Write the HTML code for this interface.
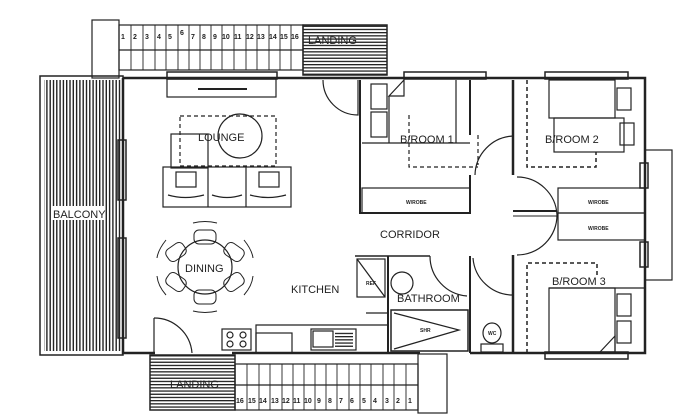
<!DOCTYPE html>
<html><head><meta charset="utf-8"><style>
html,body{margin:0;padding:0;background:#fff;width:692px;height:417px;overflow:hidden}
svg{display:block}
text{font-family:"Liberation Sans",sans-serif;fill:#222}
</style></head><body>
<svg width="692" height="417" viewBox="0 0 692 417" xmlns="http://www.w3.org/2000/svg">
<defs>
<pattern id="hh" width="4" height="3.2" patternUnits="userSpaceOnUse"><rect width="4" height="1.3" fill="#222"/></pattern>
<pattern id="vv" width="3.3" height="4" patternUnits="userSpaceOnUse"><rect width="1.4" height="4" fill="#222"/></pattern>
</defs>
<g fill="none" stroke="#222" stroke-width="1.2">
<rect x="92" y="20" width="27" height="58"/>
<rect x="119" y="25" width="184" height="45"/>
<line x1="119" y1="50" x2="303" y2="50"/>
<g stroke-width="0.9">
<line x1="131" y1="25" x2="131" y2="70"/><line x1="143" y1="25" x2="143" y2="70"/><line x1="155" y1="25" x2="155" y2="70"/><line x1="166" y1="25" x2="166" y2="70"/><line x1="178" y1="25" x2="178" y2="70"/><line x1="189" y1="25" x2="189" y2="70"/><line x1="200" y1="25" x2="200" y2="70"/><line x1="211" y1="25" x2="211" y2="70"/><line x1="222" y1="25" x2="222" y2="70"/><line x1="234" y1="25" x2="234" y2="70"/><line x1="246" y1="25" x2="246" y2="70"/><line x1="257" y1="25" x2="257" y2="70"/><line x1="269" y1="25" x2="269" y2="70"/><line x1="280" y1="25" x2="280" y2="70"/><line x1="291" y1="25" x2="291" y2="70"/>
</g>
<rect x="303" y="25" width="84" height="50" fill="url(#hh)" stroke-width="1.5"/>
<rect x="40" y="76" width="83" height="279" stroke-width="1.5"/>
<rect x="44" y="80" width="77" height="271" fill="url(#vv)" stroke="none"/>
<path d="M123 78 H645 V353 H470" stroke-width="2.5"/>
<path d="M123 78 V353 H155" stroke-width="2.5"/>
<line x1="232" y1="353" x2="420" y2="353" stroke-width="2.5"/>
<rect x="645" y="150" width="27" height="130"/>
<rect x="640" y="163" width="8" height="25" stroke-width="1.5"/>
<rect x="640" y="242" width="8" height="25" stroke-width="1.5"/>
<rect x="167" y="72" width="110" height="7" stroke-width="1.5"/>
<rect x="404" y="72" width="82" height="7" stroke-width="1.5"/>
<rect x="545" y="72" width="83" height="7" stroke-width="1.5"/>
<rect x="545" y="352" width="83" height="7" stroke-width="1.5"/>
<rect x="118" y="140" width="8" height="60" stroke-width="1.5"/>
<rect x="118" y="238" width="8" height="100" stroke-width="1.5"/>
<rect x="167" y="79" width="109" height="18"/>
<line x1="198" y1="89" x2="247" y2="89" stroke-width="2"/>
<rect x="180" y="116" width="96" height="50" stroke-dasharray="4,3"/>
<circle cx="240" cy="136" r="22"/>
<rect x="171" y="134" width="37" height="34"/>
<rect x="163" y="167" width="128" height="40"/>
<line x1="208" y1="167" x2="208" y2="207"/><line x1="246" y1="167" x2="246" y2="207"/>
<rect x="176" y="172" width="20" height="15"/><rect x="259" y="172" width="20" height="15"/>
<path d="M168 195 Q185 200 204 195 M212 195 Q227 200 242 195 M250 195 Q268 200 286 195"/>
<circle cx="205" cy="267" r="27"/>
<g stroke-width="1">
<rect x="194" y="230" width="22" height="14" rx="5"/>
<rect x="194" y="290" width="22" height="14" rx="5"/>
<rect x="166" y="245" width="20" height="14" rx="5" transform="rotate(-35 176 252)"/>
<rect x="224" y="245" width="20" height="14" rx="5" transform="rotate(35 234 252)"/>
<rect x="166" y="275" width="20" height="14" rx="5" transform="rotate(35 176 282)"/>
<rect x="224" y="275" width="20" height="14" rx="5" transform="rotate(-35 234 282)"/>
<path d="M193 223 Q205 220 217 223"/><path d="M193 311 Q205 314 217 311"/>
<path d="M166 240 Q158 250 157 258"/><path d="M244 240 Q252 250 253 258"/>
<path d="M157 276 Q158 286 166 295"/><path d="M253 276 Q252 286 244 295"/>
</g>
<path d="M154 318 V353"/><path d="M154 318 A38 38 0 0 1 192 353"/>
<rect x="150" y="355" width="85" height="55" fill="url(#hh)" stroke-width="1.5"/>
<rect x="235" y="364" width="183" height="46"/>
<line x1="235" y1="385" x2="418" y2="385"/>
<g stroke-width="0.9">
<line x1="247" y1="364" x2="247" y2="410"/><line x1="259" y1="364" x2="259" y2="410"/><line x1="270" y1="364" x2="270" y2="410"/><line x1="282" y1="364" x2="282" y2="410"/><line x1="293" y1="364" x2="293" y2="410"/><line x1="304" y1="364" x2="304" y2="410"/><line x1="315" y1="364" x2="315" y2="410"/><line x1="326" y1="364" x2="326" y2="410"/><line x1="337" y1="364" x2="337" y2="410"/><line x1="349" y1="364" x2="349" y2="410"/><line x1="360" y1="364" x2="360" y2="410"/><line x1="371" y1="364" x2="371" y2="410"/><line x1="383" y1="364" x2="383" y2="410"/><line x1="394" y1="364" x2="394" y2="410"/><line x1="406" y1="364" x2="406" y2="410"/>
</g>
<rect x="418" y="354" width="29" height="59"/>
<path d="M358 80 V115 A35 35 0 0 1 323 80"/>
<path d="M256 353 V325 H388"/>
<rect x="222" y="329" width="29" height="21"/>
<circle cx="230" cy="335" r="3"/><circle cx="243" cy="335" r="3"/><circle cx="230" cy="344" r="3"/><circle cx="243" cy="344" r="3"/>
<rect x="256" y="333" width="36" height="20"/>
<rect x="311" y="329" width="45" height="21"/>
<rect x="313" y="331" width="20" height="16"/>
<rect x="335" y="331" width="18" height="16" fill="url(#hh)" stroke="none"/>
<rect x="357" y="259" width="28" height="38"/>
<line x1="357" y1="259" x2="385" y2="297"/>
<path d="M355 256 H430" stroke-width="1.5"/>
<path d="M388 256 V353" stroke-width="2"/>
<line x1="366" y1="313" x2="388" y2="313"/>
<rect x="391" y="310" width="77" height="41" stroke-width="1.5"/>
<path d="M394 313 L459 330 L394 349"/>
<circle cx="402" cy="283" r="11"/>
<path d="M430 256 A40 40 0 0 0 467 296"/>
<path d="M470 256 V353" stroke-width="2"/>
<path d="M473 258 A40 40 0 0 0 513 295"/>
<ellipse cx="492" cy="333" rx="9" ry="10"/>
<rect x="481" y="344" width="22" height="8"/>
<path d="M360 80 V213 H470 V175" stroke-width="2"/>
<path d="M470 80 V135" stroke-width="2"/>
<path d="M513 80 V175" stroke-width="2.5"/>
<path d="M513 255 V353" stroke-width="2.5"/>
<line x1="513" y1="211" x2="557" y2="211" stroke-width="2"/>
<line x1="513" y1="216" x2="557" y2="216" stroke-width="1"/>
<rect x="362" y="188" width="108" height="25"/>
<line x1="362" y1="143" x2="470" y2="143"/>
<rect x="371" y="84" width="16" height="25"/><rect x="371" y="112" width="16" height="25"/>
<path d="M389 96 L404 80 V96 Z M389 96 V143"/>
<line x1="456" y1="80" x2="456" y2="143"/>
<path d="M409 115 V167 H478" stroke-dasharray="4,3"/>
<path d="M478 135 V165" stroke-dasharray="4,3"/>
<path d="M475 175 A40 40 0 0 1 513 136"/>
<path d="M527 80 V167 H596 V152" stroke-dasharray="4,3" stroke-width="1.5"/>
<rect x="549" y="80" width="66" height="38"/>
<rect x="554" y="118" width="70" height="34"/>
<rect x="617" y="88" width="14" height="22"/><rect x="620" y="123" width="14" height="22"/>
<rect x="558" y="188" width="87" height="25"/>
<rect x="558" y="213" width="87" height="27"/>
<path d="M517 177 A40 40 0 0 1 557 215"/>
<path d="M557 215 A40 40 0 0 1 517 255"/>
<path d="M527 353 V263 H597 V275" stroke-dasharray="4,3" stroke-width="1.5"/>
<path d="M549 288 H645"/>
<rect x="549" y="288" width="66" height="64"/>
<rect x="617" y="294" width="14" height="22"/><rect x="617" y="321" width="14" height="22"/>
<path d="M600 352 L615 336 V352"/>
</g>
<rect x="52" y="206" width="52" height="14" fill="#fff"/>
<g font-size="7" font-weight="bold">
<text x="121" y="39">1</text><text x="133" y="39">2</text><text x="145" y="39">3</text><text x="157" y="39">4</text><text x="168" y="39">5</text><text x="180" y="35">6</text><text x="191" y="39">7</text><text x="202" y="39">8</text><text x="213" y="39">9</text><text x="222" y="39">10</text><text x="234" y="39">11</text><text x="246" y="39">12</text><text x="257" y="39">13</text><text x="269" y="39">14</text><text x="280" y="39">15</text><text x="291" y="39">16</text>
<text x="236" y="403">16</text><text x="248" y="403">15</text><text x="259" y="403">14</text><text x="271" y="403">13</text><text x="282" y="403">12</text><text x="293" y="403">11</text><text x="304" y="403">10</text><text x="317" y="403">9</text><text x="328" y="403">8</text><text x="339" y="403">7</text><text x="350" y="403">6</text><text x="362" y="403">5</text><text x="373" y="403">4</text><text x="385" y="403">3</text><text x="396" y="403">2</text><text x="408" y="403">1</text>
<text x="406" y="204" font-size="5">W/ROBE</text><text x="588" y="204" font-size="5">W/ROBE</text><text x="588" y="230" font-size="5">W/ROBE</text>
<text x="420" y="332" font-size="5">SHR</text><text x="488" y="335" font-size="5">WC</text><text x="366" y="285" font-size="5">REF</text>
</g>
<g font-size="11">
<text x="198" y="141">LOUNGE</text>
<text x="400" y="143">B/ROOM 1</text>
<text x="545" y="143">B/ROOM 2</text>
<text x="53" y="218">BALCONY</text>
<text x="380" y="238">CORRIDOR</text>
<text x="185" y="272">DINING</text>
<text x="291" y="293">KITCHEN</text>
<text x="397" y="302">BATHROOM</text>
<text x="552" y="285">B/ROOM 3</text>
<text x="308" y="44" fill="#777">LANDING</text>
<text x="170" y="388" fill="#777">LANDING</text>
</g>
</svg>
</body></html>
